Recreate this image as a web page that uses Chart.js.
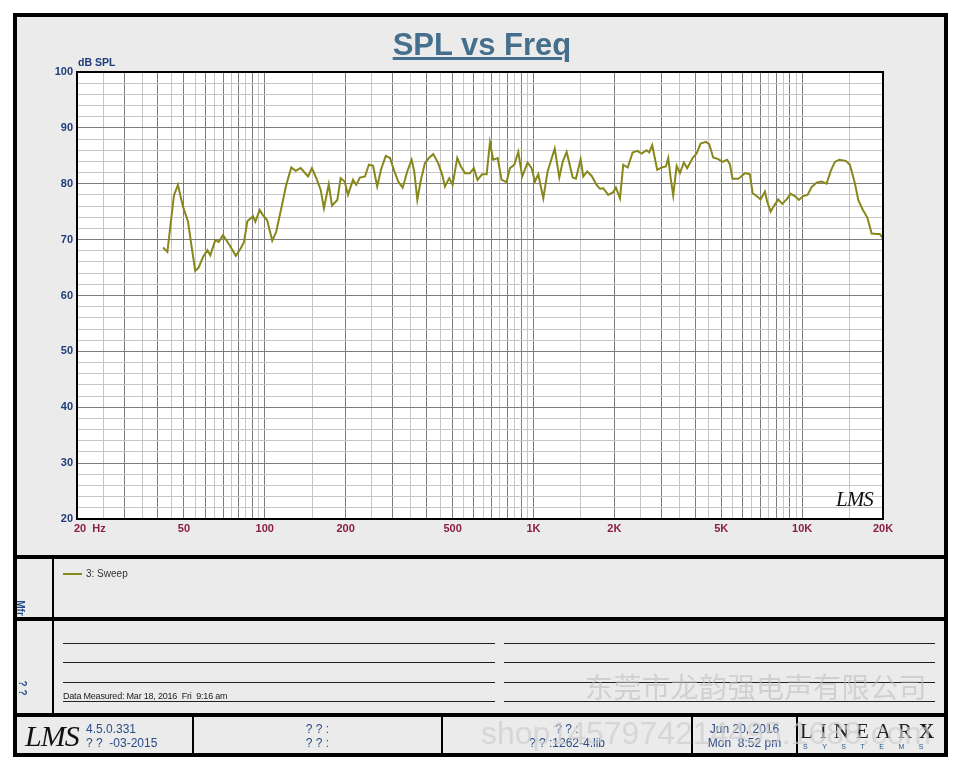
<!DOCTYPE html>
<html>
<head>
<meta charset="utf-8">
<script src="https://cdn.jsdelivr.net/npm/chart.js@4.4.0/dist/chart.umd.min.js"></script>
<style>
body { margin:0; background:#fff; width:960px; height:768px; position:relative; overflow:hidden; font-family:Arial, "Liberation Sans", sans-serif; }
.abs { position:absolute; line-height:1; white-space:pre; }
.bar { position:absolute; background:#000; }
.blue { color:#2a4d86; font-size:12px; }
.rule { position:absolute; height:1px; background:#222; }
</style>
</head>
<body>
<div class="abs" style="left:13px;top:13px;width:935px;height:744px;border:4px solid #000;box-sizing:border-box;background:#ebebeb"></div>
<div class="bar" style="left:13px;top:555px;width:935px;height:4px"></div>
<div class="bar" style="left:13px;top:617px;width:935px;height:4px"></div>
<div class="bar" style="left:13px;top:713px;width:935px;height:4px"></div>
<div class="bar" style="left:52px;top:557px;width:2px;height:158px"></div>
<div class="bar" style="left:192px;top:715px;width:2px;height:40px"></div>
<div class="bar" style="left:441px;top:715px;width:2px;height:40px"></div>
<div class="bar" style="left:691px;top:715px;width:2px;height:40px"></div>
<div class="bar" style="left:796px;top:715px;width:2px;height:40px"></div>

<canvas id="myChart" class="abs" width="960" height="768" style="left:0;top:0"></canvas>

<div class="abs" style="left:0;width:960px;text-align:center;top:29px;font-size:31px;font-weight:bold;color:#456f8c;text-decoration:underline;padding-left:2px">SPL vs Freq</div>
<div class="abs" style="left:78px;top:57px;font-size:10.5px;font-weight:bold;color:#1e3c78">dB SPL</div>
<div class="abs" style="left:836px;top:489px;font-family:'Liberation Serif',serif;font-style:italic;font-size:21px;color:#111;letter-spacing:-1px">LMS</div>

<!-- legend panel -->
<div class="bar" style="left:63px;top:573px;width:19px;height:2px;background:#87871c"></div>
<div class="abs" style="left:86px;top:569px;font-size:10px;color:#333">3: Sweep</div>
<div class="abs" style="left:12px;top:603px;font-size:10px;font-weight:bold;color:#1e4a8a;transform:rotate(90deg)">Mfr</div>

<!-- notes panel -->
<div class="abs" style="left:14px;top:683px;font-size:10px;font-weight:bold;color:#1e4a8a;transform:rotate(90deg)">? ?</div>
<div class="rule" style="left:63px;top:643px;width:432px"></div>
<div class="rule" style="left:63px;top:662px;width:432px"></div>
<div class="rule" style="left:63px;top:682px;width:432px"></div>
<div class="rule" style="left:63px;top:701px;width:432px"></div>
<div class="rule" style="left:504px;top:643px;width:431px"></div>
<div class="rule" style="left:504px;top:662px;width:431px"></div>
<div class="rule" style="left:504px;top:682px;width:431px"></div>
<div class="rule" style="left:504px;top:701px;width:431px"></div>
<div class="abs" style="left:63px;top:692px;font-size:9px;color:#222;letter-spacing:-0.2px">Data Measured: Mar 18, 2016  Fri  9:16 am</div>

<!-- footer -->
<div class="abs" style="left:25px;top:721px;font-family:'Liberation Serif',serif;font-style:italic;font-size:30px;color:#111;letter-spacing:-1px">LMS</div>
<div class="abs blue" style="left:86px;top:723px">4.5.0.331</div>
<div class="abs blue" style="left:86px;top:737px">? ?  -03-2015</div>
<div class="abs blue" style="left:194px;width:247px;text-align:center;top:723px">? ? :</div>
<div class="abs blue" style="left:194px;width:247px;text-align:center;top:737px">? ? :</div>
<div class="abs blue" style="left:443px;width:248px;text-align:center;top:723px">? ? :</div>
<div class="abs blue" style="left:443px;width:248px;text-align:center;top:737px">? ? :1262-4.lib</div>
<div class="abs blue" style="left:693px;width:103px;text-align:center;top:723px">Jun 20, 2016</div>
<div class="abs blue" style="left:693px;width:103px;text-align:center;top:737px">Mon  8:52 pm</div>
<div class="abs" style="left:800px;top:721px;font-family:'Liberation Serif',serif;font-size:21px;color:#222;letter-spacing:7px">LINEAR<b>X</b></div>
<div class="abs" style="left:803px;top:743px;font-size:7px;color:#2a5a8a;letter-spacing:14.5px">SYSTEMS</div>

<!-- watermark -->
<div class="abs" style="left:585px;top:672px;font-family:'Noto Sans CJK SC',sans-serif;font-size:28px;color:rgba(190,190,190,0.6);letter-spacing:0.5px">东莞市龙韵强电声有限公司</div>
<div class="abs" style="left:481px;top:717px;font-size:32px;color:rgba(205,205,205,0.7)">shop1457974214495.1688.com</div>

<script>
// measured curve
var freqHz = [
    41.8, 43.4, 45.9, 47.5, 49.6, 51.8, 53.3, 55.1, 56.7, 58.9,
    61.1, 62.7, 65.4, 67.4, 69.9, 74.0, 78.0, 81.3, 83.7, 86.1,
    90.4, 92.2, 95.7, 98.4, 102, 106.6, 110.3, 115.2, 120.2, 125.5,
    130.3, 136, 144.9, 149.8, 155.5, 161.5, 166, 173, 177.9, 186.2,
    191.6, 198.3, 204, 212.9, 219, 226, 236, 244, 253, 262,
    270.7, 282, 292.5, 303.6, 314, 326, 339, 352, 360, 369.6,
    380, 394.5, 408, 423.6, 442, 457.6, 468.3, 486, 500, 520.4,
    537, 555.9, 580, 600, 619, 644, 669.6, 688.7, 708, 736,
    761, 794, 817.6, 848.6, 878, 908, 951, 984, 1013, 1042,
    1088, 1129, 1200, 1248, 1284, 1329, 1400, 1439, 1498, 1532,
    1585, 1647, 1718, 1768, 1819, 1898, 1982, 2028, 2099, 2159,
    2242, 2340, 2433, 2527, 2637, 2697, 2767, 2888, 2999, 3112,
    3175, 3240, 3312, 3412, 3509, 3630, 3734, 3912, 4047, 4189,
    4385, 4508, 4666, 4872, 5058, 5262, 5383, 5508, 5780, 5900,
    6124, 6392, 6542, 6772, 7008, 7270, 7414, 7634, 7853, 8150,
    8433, 8754, 9063, 9398, 9725, 10090, 10480, 10845, 11320, 11810,
    12330, 12760, 13240, 13740, 14550, 15060, 15720, 16180, 16800, 17470,
    18150, 19020, 19460, 20000
];
var splDb = [
    68.6, 67.8, 77.9, 79.8, 75.9, 73.2, 69.0, 64.4, 65.0, 66.9,
    68.1, 67.2, 69.9, 69.6, 70.8, 69.0, 67.1, 68.4, 69.6, 73.3,
    74.2, 73.2, 75.3, 74.4, 73.5, 69.8, 71.4, 75.6, 79.8, 82.9,
    82.3, 82.8, 81.3, 82.8, 81.0, 78.9, 75.6, 79.9, 76.1, 77.1,
    81.0, 80.4, 78.0, 80.7, 79.8, 81.1, 81.3, 83.4, 83.2, 79.5,
    82.5, 85.0, 84.6, 82.2, 80.4, 79.3, 82.2, 84.3, 82.2, 77.1,
    80.4, 83.7, 84.6, 85.3, 83.7, 81.6, 79.5, 81.0, 79.8, 84.6,
    83.1, 81.9, 81.9, 82.8, 80.7, 81.7, 81.7, 87.4, 84.3, 84.6,
    80.7, 80.3, 82.8, 83.4, 85.7, 81.3, 83.8, 82.8, 80.4, 81.7,
    77.4, 82.2, 86.3, 81.1, 83.9, 85.7, 81.1, 80.9, 84.4, 81.3,
    82.2, 81.4, 79.8, 79.1, 79.2, 78.0, 78.5, 79.3, 77.4, 83.4,
    82.9, 85.6, 85.9, 85.4, 86.0, 85.6, 86.9, 82.5, 82.9, 83.1,
    84.6, 81.1, 77.9, 83.2, 81.9, 83.8, 82.8, 84.6, 85.4, 87.2,
    87.5, 87.1, 84.7, 84.4, 83.9, 84.3, 83.5, 80.9, 80.9, 81.2,
    81.9, 81.7, 78.3, 77.8, 77.2, 78.6, 76.8, 75.0, 76.0, 77.2,
    76.4, 77.2, 78.2, 77.8, 77.1, 77.8, 78.0, 79.4, 80.2, 80.4,
    80.0, 82.2, 83.9, 84.3, 84.1, 83.4, 80.1, 77.1, 75.4, 74.0,
    71.1, 71.0, 71.0, 70.2
];

var xTickValues = [20, 50, 100, 200, 500, 1000, 2000, 5000, 10000, 20000];
var xTickLabels = ['20  Hz', '50', '100', '200', '500', '1K', '2K', '5K', '10K', '20K'];
var yMin = 20, yMax = 100;

// grid lines: dark at 1..9 x decade, light at the halves
var gridFreqs = [];
[10, 100, 1000, 10000].forEach(function (d) {
    for (var m = 1; m < 10; m += 0.5) {
        var v = Math.round(m * d);
        if (v >= 20 && v <= 20000) gridFreqs.push(v);
    }
});

function isMajorFreq(v) {
    var d = Math.pow(10, Math.floor(Math.log10(v) + 1e-9));
    return Math.abs(v / d - Math.round(v / d)) < 1e-6;
}

var framePlugin = {
    id: 'frame',
    beforeDraw: function (ch) {
        var a = ch.chartArea, c = ch.ctx;
        c.save();
        c.fillStyle = '#fff';
        c.fillRect(a.left, a.top, a.right - a.left, a.bottom - a.top);
        c.restore();
    },
    afterDraw: function (ch) {
        var a = ch.chartArea, c = ch.ctx, sx = ch.scales.x;
        c.save();
        c.strokeStyle = '#000';
        c.lineWidth = 2;
        c.strokeRect(a.left, a.top, a.right - a.left, a.bottom - a.top);
        c.font = 'bold 11px Arial';
        c.fillStyle = '#8a1c46';
        c.textBaseline = 'middle';
        for (var i = 0; i < xTickValues.length; i++) {
            var px = sx.getPixelForValue(xTickValues[i]);
            if (i === 0) {
                c.textAlign = 'left';
                px -= 3;
            } else {
                c.textAlign = 'center';
            }
            c.fillText(xTickLabels[i], px, a.bottom + 10);
        }
        c.restore();
    }
};

var ctx = document.getElementById('myChart');
var chart = new Chart(ctx, {
    type: 'line',
    data: {
        datasets: [{
            label: '3: Sweep',
            data: freqHz.map(function (f, i) { return { x: f, y: splDb[i] }; }),
            borderColor: '#87871c',
            borderWidth: 2,
            pointRadius: 0,
            tension: 0,
            fill: false
        }]
    },
    options: {
        responsive: false,
        animation: false,
        devicePixelRatio: 1,
        layout: { padding: { left: 0, top: 72, right: 77, bottom: 249 } },
        plugins: { legend: { display: false }, tooltip: { enabled: false } },
        scales: {
            x: {
                type: 'logarithmic',
                min: 20,
                max: 20000,
                afterBuildTicks: function (s) {
                    s.ticks = gridFreqs.map(function (v) { return { value: v }; });
                },
                afterFit: function (s) { s.height = 0; },
                ticks: { display: false, autoSkip: false },
                grid: {
                    drawTicks: false,
                    lineWidth: 1,
                    color: function (c) {
                        return c.tick && isMajorFreq(c.tick.value) ? '#7d7d7d' : '#c6c6c6';
                    }
                },
                border: { display: false }
            },
            y: {
                min: yMin,
                max: yMax,
                afterFit: function (s) { s.width = 77; },
                ticks: {
                    stepSize: 2,
                    autoSkip: false,
                    padding: 4,
                    color: '#1e3c78',
                    font: { family: 'Arial', size: 11, weight: 'bold' },
                    callback: function (v) { return v % 10 === 0 ? v : ''; }
                },
                grid: {
                    drawTicks: false,
                    lineWidth: 1,
                    color: function (c) {
                        return c.tick && c.tick.value % 10 === 0 ? '#7d7d7d' : '#c6c6c6';
                    }
                },
                border: { display: false }
            }
        }
    },
    plugins: [framePlugin]
});
</script>
</body>
</html>
